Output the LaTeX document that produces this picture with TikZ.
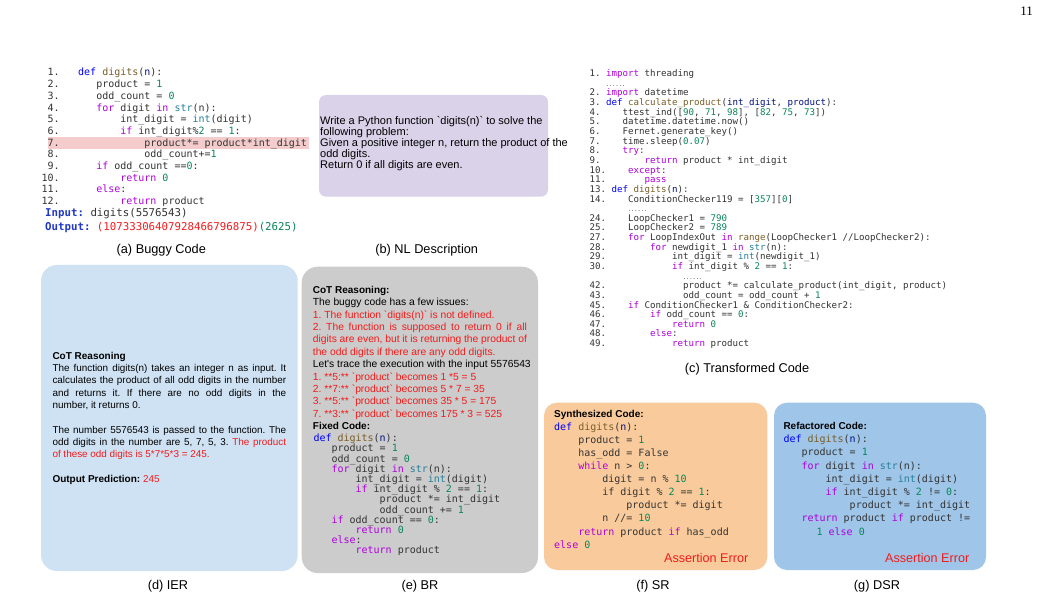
\documentclass[tikz,border=0pt]{standalone}
\usepackage{fontspec}
\setmainfont{Liberation Sans}
\newfontfamily\codefont{DejaVu Sans Mono}
\newfontfamily\pagefont{Liberation Serif}
\frenchspacing
\definecolor{kwc}{HTML}{AF00DB}
\definecolor{defc}{HTML}{0000FF}
\definecolor{fnc}{HTML}{795E26}
\definecolor{parc}{HTML}{001080}
\definecolor{numc}{HTML}{098658}
\definecolor{bic}{HTML}{267F99}
\definecolor{codec}{HTML}{333333}
\definecolor{errc}{HTML}{F21B1B}
\definecolor{iobl}{HTML}{2138C8}
\definecolor{hlpink}{HTML}{F4CCCC}
\definecolor{nlbox}{HTML}{D9D2E9}
\definecolor{ierbox}{HTML}{CFE2F3}
\definecolor{brbox}{HTML}{CCCCCC}
\definecolor{srbox}{HTML}{F9CB9C}
\definecolor{dsrbox}{HTML}{9FC5E8}
\newcommand\ckw[1]{\textcolor{kwc}{#1}}
\newcommand\cdf[1]{\textcolor{defc}{#1}}
\newcommand\cfn[1]{\textcolor{fnc}{#1}}
\newcommand\cpa[1]{\textcolor{parc}{#1}}
\newcommand\cnm[1]{\textcolor{numc}{#1}}
\newcommand\cbi[1]{\textcolor{bic}{#1}}
\newcommand\cred[1]{\textcolor{errc}{#1}}
\newcommand\cblock[1]{\vtop{\lineskiplimit=-100pt\lineskip=0pt\relax #1}}
\newcommand\cln[1]{\hbox{#1}}
\newcommand\cind[1]{\hspace*{#1\fontcharwd\font`0}}
\newcommand\nb[1]{\llap{#1\hspace{18.5pt}}}
\newcommand\smdots{{\fontsize{5.3}{6}\selectfont......}}
\newcommand\gr{\textasciigrave}
\tikzset{
  every node/.style={inner sep=0pt},
  codeblk/.style={anchor=base west, text=codec},
  txtblk/.style={anchor=base west, text=black},
  capt/.style={anchor=base, text=black, font={\fontsize{12.75}{15}\selectfont}},
  errlbl/.style={anchor=base west, text=errc, font={\fontsize{12.6}{15}\selectfont}},
  headlbl/.style={anchor=base west, text=black, font={\bfseries\fontsize{10}{12}\selectfont}},
  panel/.style={rounded corners=#1},
}
\begin{document}
\begin{tikzpicture}[x=1pt,y=-1pt]
\fill[white] (0,0) rectangle (1039,596);
\useasboundingbox (0,0) rectangle (1039,596);

% page number
\node[anchor=base east, font={\pagefont\fontsize{13}{15}\selectfont}] (pg) at (1033,16) {11};

% ---------------- panel backgrounds
\fill[nlbox, panel=7pt] (319,95) rectangle (548,196.7);
\fill[ierbox, panel=16pt] (41,265) rectangle (297.7,571);
\fill[brbox, panel=16pt] (301.7,266.7) rectangle (538,573);
\fill[srbox, panel=13pt] (544,402.7) rectangle (767.3,570);
\fill[dsrbox, panel=13pt] (774,402.7) rectangle (986,570);
\fill[hlpink] (48.3,137.3) rectangle (309.3,149);

% ---------------- (a) Buggy code
\node[codeblk, font={\codefont\fontsize{10}{11.7}\selectfont}] (acode) at (78,76) {\cblock{%
\cln{\nb{1.}\cdf{def} \cfn{digits}(\cpa{n}):}%
\cln{\nb{2.}\cind{3}product = \cnm{1}}%
\cln{\nb{3.}\cind{3}odd\_count = \cnm{0}}%
\cln{\nb{4.}\cind{3}\ckw{for} digit \ckw{in} \cbi{str}(n):}%
\cln{\nb{5.}\cind{7}int\_digit = \cbi{int}(digit)}%
\cln{\nb{6.}\cind{7}\ckw{if} int\_digit\%\cnm{2} == \cnm{1}:}%
\cln{\nb{7.}\cind{11}product*= product*int\_digit}%
\cln{\nb{8.}\cind{11}odd\_count+=\cnm{1}}%
\cln{\nb{9.}\cind{3}\ckw{if} odd\_count ==\cnm{0}:}%
\cln{\nb{10.}\cind{7}\ckw{return} \cnm{0}}%
\cln{\nb{11.}\cind{3}\ckw{else}:}%
\cln{\nb{12.}\cind{7}\ckw{return} product}%
\vskip0.6pt
\cln{\hspace*{-33pt}\fontsize{10.75}{11.7}\selectfont\textbf{\textcolor{iobl}{Input:}} digits(5576543)}%
\vskip1.7pt
\cln{\hspace*{-33pt}\fontsize{10.75}{11.7}\selectfont\textbf{\textcolor{iobl}{Output:}} \cred{(10733306407928466796875)}\cnm{(2625)}}%
}};
\node[capt] (acap) at (161.3,254) {(a) Buggy Code};

% ---------------- (b) NL description
\node[txtblk, font={\fontsize{11}{11}\selectfont}] (btext) at (320,125) {\cblock{%
\cln{Write a Python function \gr digits(n)\gr\ to solve the}%
\cln{following problem:}%
\cln{Given a positive integer n, return the product of the}%
\cln{odd digits.}%
\cln{Return 0 if all digits are even.}%
}};
\node[capt] (bcap) at (426.7,254) {(b) NL Description};

% ---------------- (c) Transformed code
\node[codeblk, font={\codefont\fontsize{9.14}{9.64}\selectfont}] (ccode) at (589.3,76.7) {\cblock{%
\cln{1. \ckw{import} threading}%
\cln{\cind{3}\smdots}%
\cln{2. \ckw{import} datetime}%
\cln{3. \cdf{def} \cfn{calculate\_product}(\cpa{int\_digit}, \cpa{product}):}%
\cln{4.\cind{4}ttest\_ind([\cnm{90}, \cnm{71}, \cnm{98}], [\cnm{82}, \cnm{75}, \cnm{73}])}%
\cln{5.\cind{4}datetime.datetime.now()}%
\cln{6.\cind{4}Fernet.generate\_key()}%
\cln{7.\cind{4}time.sleep(\cnm{0.07})}%
\cln{8.\cind{4}\ckw{try}:}%
\cln{9.\cind{8}\ckw{return} product * int\_digit}%
\cln{10.\cind{4}\ckw{except}:}%
\cln{11.\cind{7}\ckw{pass}}%
\cln{13. \cdf{def} \cfn{digits}(\cpa{n}):}%
\cln{14.\cind{4}ConditionChecker119 = [\cnm{357}][\cnm{0}]}%
\cln{\cind{7}\smdots}%
\cln{24.\cind{4}LoopChecker1 = \cnm{790}}%
\cln{25.\cind{4}LoopChecker2 = \cnm{789}}%
\cln{27.\cind{4}\ckw{for} LoopIndexOut \ckw{in} \cfn{range}(LoopChecker1 //LoopChecker2):}%
\cln{28.\cind{8}\ckw{for} newdigit\_1 \ckw{in} \cbi{str}(n):}%
\cln{29.\cind{12}int\_digit = \cbi{int}(newdigit\_1)}%
\cln{30.\cind{12}\ckw{if} int\_digit \% \cnm{2} == \cnm{1}:}%
\cln{\cind{17}\smdots}%
\cln{42.\cind{14}product *= calculate\_product(int\_digit, product)}%
\cln{43.\cind{14}odd\_count = odd\_count + \cnm{1}}%
\cln{45.\cind{4}\ckw{if} ConditionChecker1 \& ConditionChecker2:}%
\cln{46.\cind{8}\ckw{if} odd\_count == \cnm{0}:}%
\cln{47.\cind{12}\ckw{return} \cnm{0}}%
\cln{48.\cind{8}\ckw{else}:}%
\cln{49.\cind{12}\ckw{return} product}%
}};
\node[capt] (ccap) at (747,372.5) {(c) Transformed Code};

% ---------------- (d) IER
\node[txtblk, font={\fontsize{9.9}{12.3}\selectfont}] (dtext) at (52.3,359.3) {\cblock{%
\cln{\textbf{\fontsize{10}{12.3}\selectfont CoT Reasoning}}%
\cln{\makebox[233.7pt][s]{The function digits(n) takes an integer n as input. It}}%
\cln{\makebox[233.7pt][s]{calculates the product of all odd digits in the number}}%
\cln{\makebox[233.7pt][s]{and returns it. If there are no odd digits in the}}%
\cln{number, it returns 0.}%
\cln{}%
\cln{\makebox[233.7pt][s]{The number 5576543 is passed to the function. The}}%
\cln{\makebox[233.7pt][s]{odd digits in the number are 5, 7, 5, 3. \cred{The product}}}%
\cln{\cred{of these odd digits is 5*7*5*3 = 245.}}%
\cln{}%
\cln{\textbf{\fontsize{10}{12.3}\selectfont Output Prediction:} \cred{245}}%
}};
\node[capt] (dcap) at (168,589.5) {(d) IER};

% ---------------- (e) BR
\node[txtblk, font={\fontsize{10.3}{12.4}\selectfont}] (etext) at (312.7,293.3) {\cblock{%
\cln{\textbf{\fontsize{10}{12.4}\selectfont CoT Reasoning:}}%
\cln{The buggy code has a few issues:}%
\cln{\cred{1. The function \gr digits(n)\gr\ is not defined.}}%
\cln{\cred{\makebox[214pt][s]{2. The function is supposed to return 0 if all}}}%
\cln{\cred{\makebox[214pt][s]{digits are even, but it is returning the product of}}}%
\cln{\cred{the odd digits if there are any odd digits.}}%
\cln{Let\textquotesingle s trace the execution with the input 5576543}%
\cln{\cred{1. **5:** \gr product\gr\ becomes 1 *5 = 5}}%
\cln{\cred{2. **7:** \gr product\gr\ becomes 5 * 7 = 35}}%
\cln{\cred{3. **5:** \gr product\gr\ becomes 35 * 5 = 175}}%
\cln{\cred{7. **3:** \gr product\gr\ becomes 175 * 3 = 525}}%
\cln{\textbf{\fontsize{10}{12.4}\selectfont Fixed Code:}}%
}};
\node[codeblk, font={\codefont\fontsize{10}{10.2}\selectfont}] (ecode) at (313.3,441.7) {\cblock{%
\cln{\cdf{def} \cfn{digits}(\cpa{n}):}%
\cln{\cind{3}product = \cnm{1}}%
\cln{\cind{3}odd\_count = \cnm{0}}%
\cln{\cind{3}\ckw{for} digit \ckw{in} \cbi{str}(n):}%
\cln{\cind{7}int\_digit = \cbi{int}(digit)}%
\cln{\cind{7}\ckw{if} int\_digit \% \cnm{2} == \cnm{1}:}%
\cln{\cind{11}product *= int\_digit}%
\cln{\cind{11}odd\_count += \cnm{1}}%
\cln{\cind{3}\ckw{if} odd\_count == \cnm{0}:}%
\cln{\cind{7}\ckw{return} \cnm{0}}%
\cln{\cind{3}\ckw{else}:}%
\cln{\cind{7}\ckw{return} product}%
}};
\node[capt] (ecap) at (420,589.5) {(e) BR};

% ---------------- (f) SR
\node[headlbl] (fhead) at (554,417.3) {Synthesized Code:};
\node[codeblk, font={\codefont\fontsize{10}{13.14}\selectfont}] (fcode) at (554,430) {\cblock{%
\cln{\cdf{def} \cfn{digits}(\cpa{n}):}%
\cln{\cind{4}product = \cnm{1}}%
\cln{\cind{4}has\_odd = False}%
\cln{\cind{4}\ckw{while} n > \cnm{0}:}%
\cln{\cind{8}digit = n \% \cnm{10}}%
\cln{\cind{8}if digit \% \cnm{2} == \cnm{1}:}%
\cln{\cind{12}product *= digit}%
\cln{\cind{8}n //= \cnm{10}}%
\cln{\cind{4}\ckw{return} product \ckw{if} has\_odd}%
\cln{\ckw{else} \cnm{0}}%
}};
\node[errlbl] (ferr) at (664,562.7) {Assertion Error};
\node[capt] (fcap) at (653,589.5) {(f) SR};

% ---------------- (g) DSR
\node[headlbl] (ghead) at (783.3,429.3) {Refactored Code:};
\node[codeblk, font={\codefont\fontsize{10}{13.19}\selectfont}] (gcode) at (783.3,442.7) {\cblock{%
\cln{\cdf{def} \cfn{digits}(\cpa{n}):}%
\cln{\cind{3}product = \cnm{1}}%
\cln{\cind{3}\ckw{for} digit \ckw{in} \cbi{str}(n):}%
\cln{\cind{7}int\_digit = \cbi{int}(digit)}%
\cln{\cind{7}\ckw{if} int\_digit \% \cnm{2} != \cnm{0}:}%
\cln{\cind{11}product *= int\_digit}%
\cln{\cind{3}\ckw{return} product \ckw{if} product !=}%
\cln{\cind{5.5}\cnm{1} \ckw{else} \cnm{0}}%
}};
\node[errlbl] (gerr) at (885,562.7) {Assertion Error};
\node[capt] (gcap) at (877,589.5) {(g) DSR};
\end{tikzpicture}
\end{document}
